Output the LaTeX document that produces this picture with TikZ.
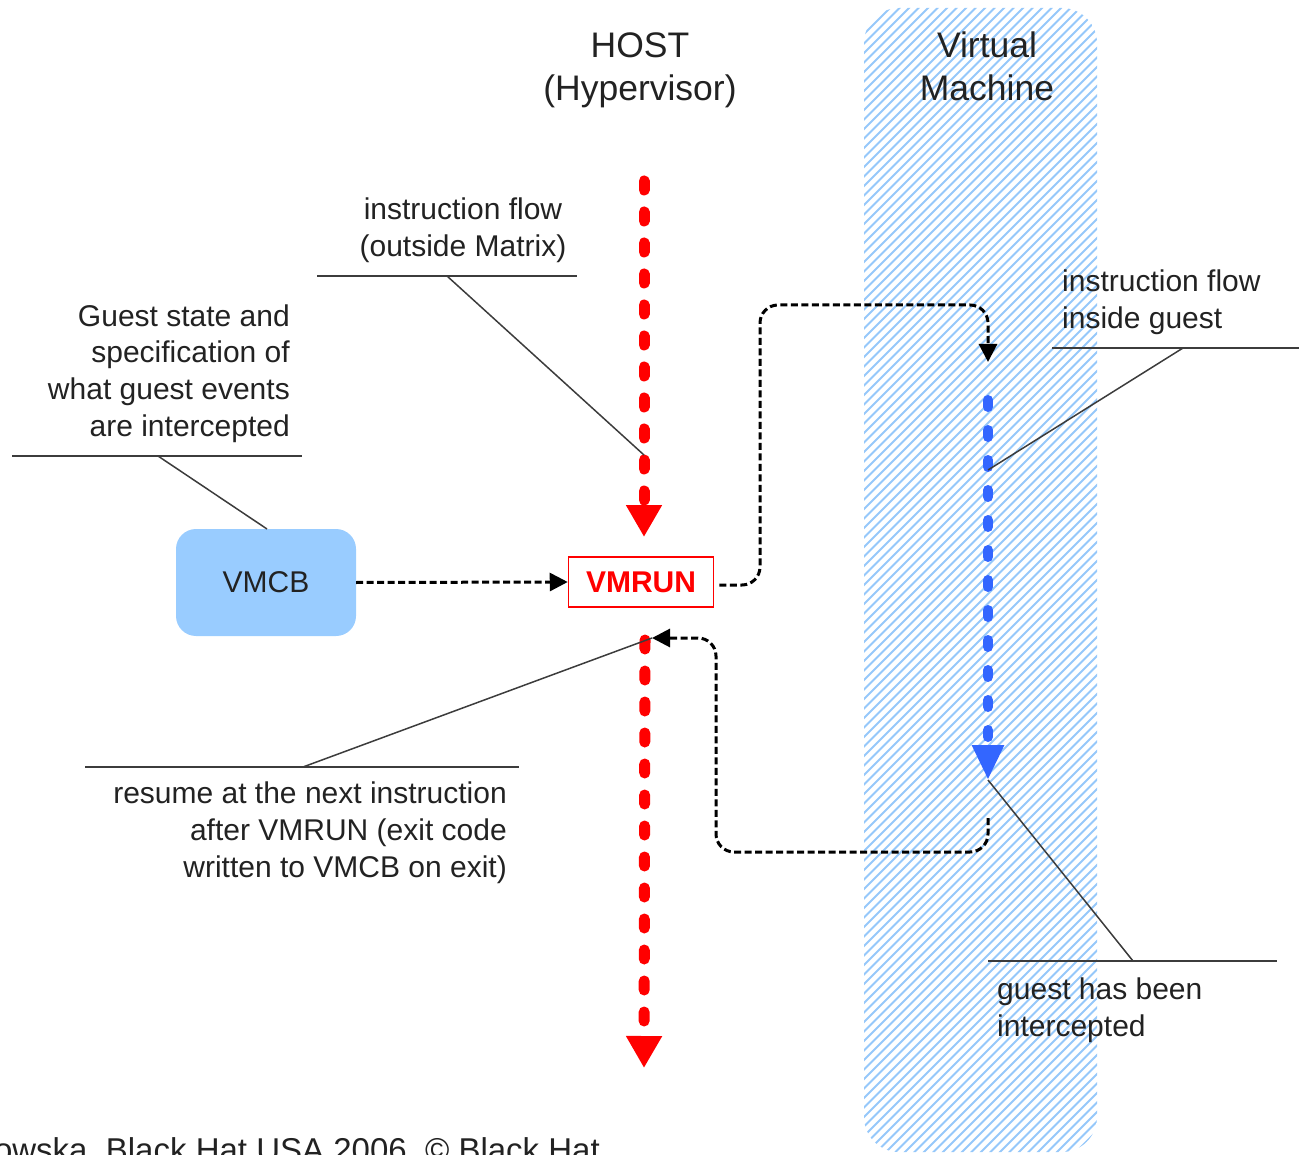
\documentclass[tikz,border=0pt]{standalone}
\usepackage{fontspec}
\setmainfont{Liberation Sans}
\usetikzlibrary{arrows.meta}
\definecolor{hatchblue}{RGB}{150,200,250}
\definecolor{vmcbfill}{RGB}{153,204,255}
\definecolor{flowblue}{RGB}{51,102,255}
\definecolor{txt}{RGB}{34,34,34}
\definecolor{leader}{RGB}{60,60,60}
\begin{document}
\begin{tikzpicture}[x=1pt,y=-1pt,
  lbl/.style={font=\fontsize{30}{37}\selectfont, text=txt, inner sep=0pt},
  ttl/.style={font=\fontsize{35.5}{43}\selectfont, text=txt, inner sep=0pt, align=center},
  leaderline/.style={draw=leader, line width=1.5pt},
  hatchline/.style={draw=hatchblue, line width=1.8pt},
  redflow/.style={draw=red, line width=11pt, line cap=round, dash pattern=on 9pt off 22pt, -{Triangle[length=32pt,width=34pt]}},
  blueflow/.style={draw=flowblue, line width=10pt, line cap=round, dash pattern=on 7pt off 23pt, -{Triangle[length=35pt,width=30pt]}},
  flow/.style={draw=black, line width=3pt, dash pattern=on 7pt off 3.5pt, rounded corners=18pt, -{Triangle[length=18pt,width=18pt]}},
]
\useasboundingbox (0,0) rectangle (1299,1155);
% Virtual machine band
\begin{scope}
  \clip[rounded corners=35pt] (864,8) rectangle (1097,1152);
  \foreach \k in {0,...,150} {
    \draw[hatchline] ({-310+\k*9.5},1170) -- ++(1200,-1200);
  }
\end{scope}
% titles
\node[ttl, anchor=base] (host) at (640,101) {HOST\\(Hypervisor)};
\node[ttl, anchor=base] (vm) at (987,101) {Virtual\\Machine};
% nodes
\node[fill=vmcbfill, rounded corners=20pt, minimum width=180pt, minimum height=107pt, inner sep=0pt, font=\fontsize{30}{36}\selectfont, text=txt] (vmcb) at (266,582.5) {VMCB};
\node[draw=red, line width=1.5pt, minimum width=145pt, minimum height=50pt, inner sep=0pt, text=red, font=\bfseries\fontsize{30}{36}\selectfont] (vmrun) at (641,582) {VMRUN};
% flow coordinates
\coordinate (hostTop) at (644,181);
\coordinate (hostIn) at (644,537);
\coordinate (hostRes) at (645,640);
\coordinate (hostEnd) at (644,1068);
\coordinate (guestTop) at (988,400);
\coordinate (guestEnd) at (988,780);
\coordinate (vmEnter) at (988,362);
\coordinate (vmExit) at (988,818);
\coordinate (resume) at (652,638);
% red and blue instruction flows
\draw[redflow] (hostTop) -- (hostIn);
\draw[redflow] (hostRes) -- (hostEnd);
\draw[blueflow] (guestTop) -- (guestEnd);
% black dashed connectors
\draw[flow] (vmcb.east) -- (vmrun.west);
\draw[flow] ([xshift=5pt,yshift=-3pt]vmrun.east) -- (760,585) -- (760,305) -- (988,305) -- (vmEnter);
\draw[flow] (vmExit) -- (988,852) -- (716,852) -- (716,638) -- (resume);
% labels (anchor = baseline of last line)
\node[lbl, align=center, anchor=base] (ifo) at (463,257) {instruction flow\\(outside Matrix)};
\node[lbl, align=right, anchor=base east] (gs) at (290,437) {Guest state and\\specification of\\what guest events\\are intercepted};
\node[lbl, align=left, anchor=base west] (ifi) at (1062,329) {instruction flow\\inside guest};
\node[lbl, align=right, anchor=base east] (res) at (507,877) {resume at the next instruction\\after VMRUN (exit code\\written to VMCB on exit)};
\node[lbl, align=left, anchor=base west] (ghbi) at (997,1036) {guest has been\\intercepted};
% leader lines
\coordinate (ifoL) at (317,276); \coordinate (ifoR) at (577,276); \coordinate (ifoM) at (447,276);
\coordinate (gsL) at (12,456); \coordinate (gsR) at (302,456); \coordinate (gsM) at (158,456);
\coordinate (ifiL) at (1052,348); \coordinate (ifiR) at (1299,348); \coordinate (ifiM) at (1183,348);
\coordinate (resL) at (85,767); \coordinate (resR) at (519,767); \coordinate (resM) at (303,767);
\coordinate (ghL) at (988,961); \coordinate (ghR) at (1277,961); \coordinate (ghM) at (1133,961);
\coordinate (hostMid) at (644,455);
\coordinate (vmcbTop) at (267,529);
\coordinate (guestMid) at (988,470);
\draw[leaderline] (ifoL) -- (ifoR);
\draw[leaderline] (ifoM) -- (hostMid);
\draw[leaderline] (gsL) -- (gsR);
\draw[leaderline] (gsM) -- (vmcbTop);
\draw[leaderline] (ifiL) -- (ifiR);
\draw[leaderline] (ifiM) -- (guestMid);
\draw[leaderline] (resL) -- (resR);
\draw[leaderline] (resM) -- (resume);
\draw[leaderline] (ghL) -- (ghR);
\draw[leaderline] (ghM) -- (guestEnd);
% credit line (cut off by the picture edge, as in the reference)
\node[font=\fontsize{33}{39}\selectfont, text=txt, anchor=base east, inner sep=0pt] (credit) at (600,1161) {owska, Black Hat USA 2006, © Black Hat};
\end{tikzpicture}
\end{document}
